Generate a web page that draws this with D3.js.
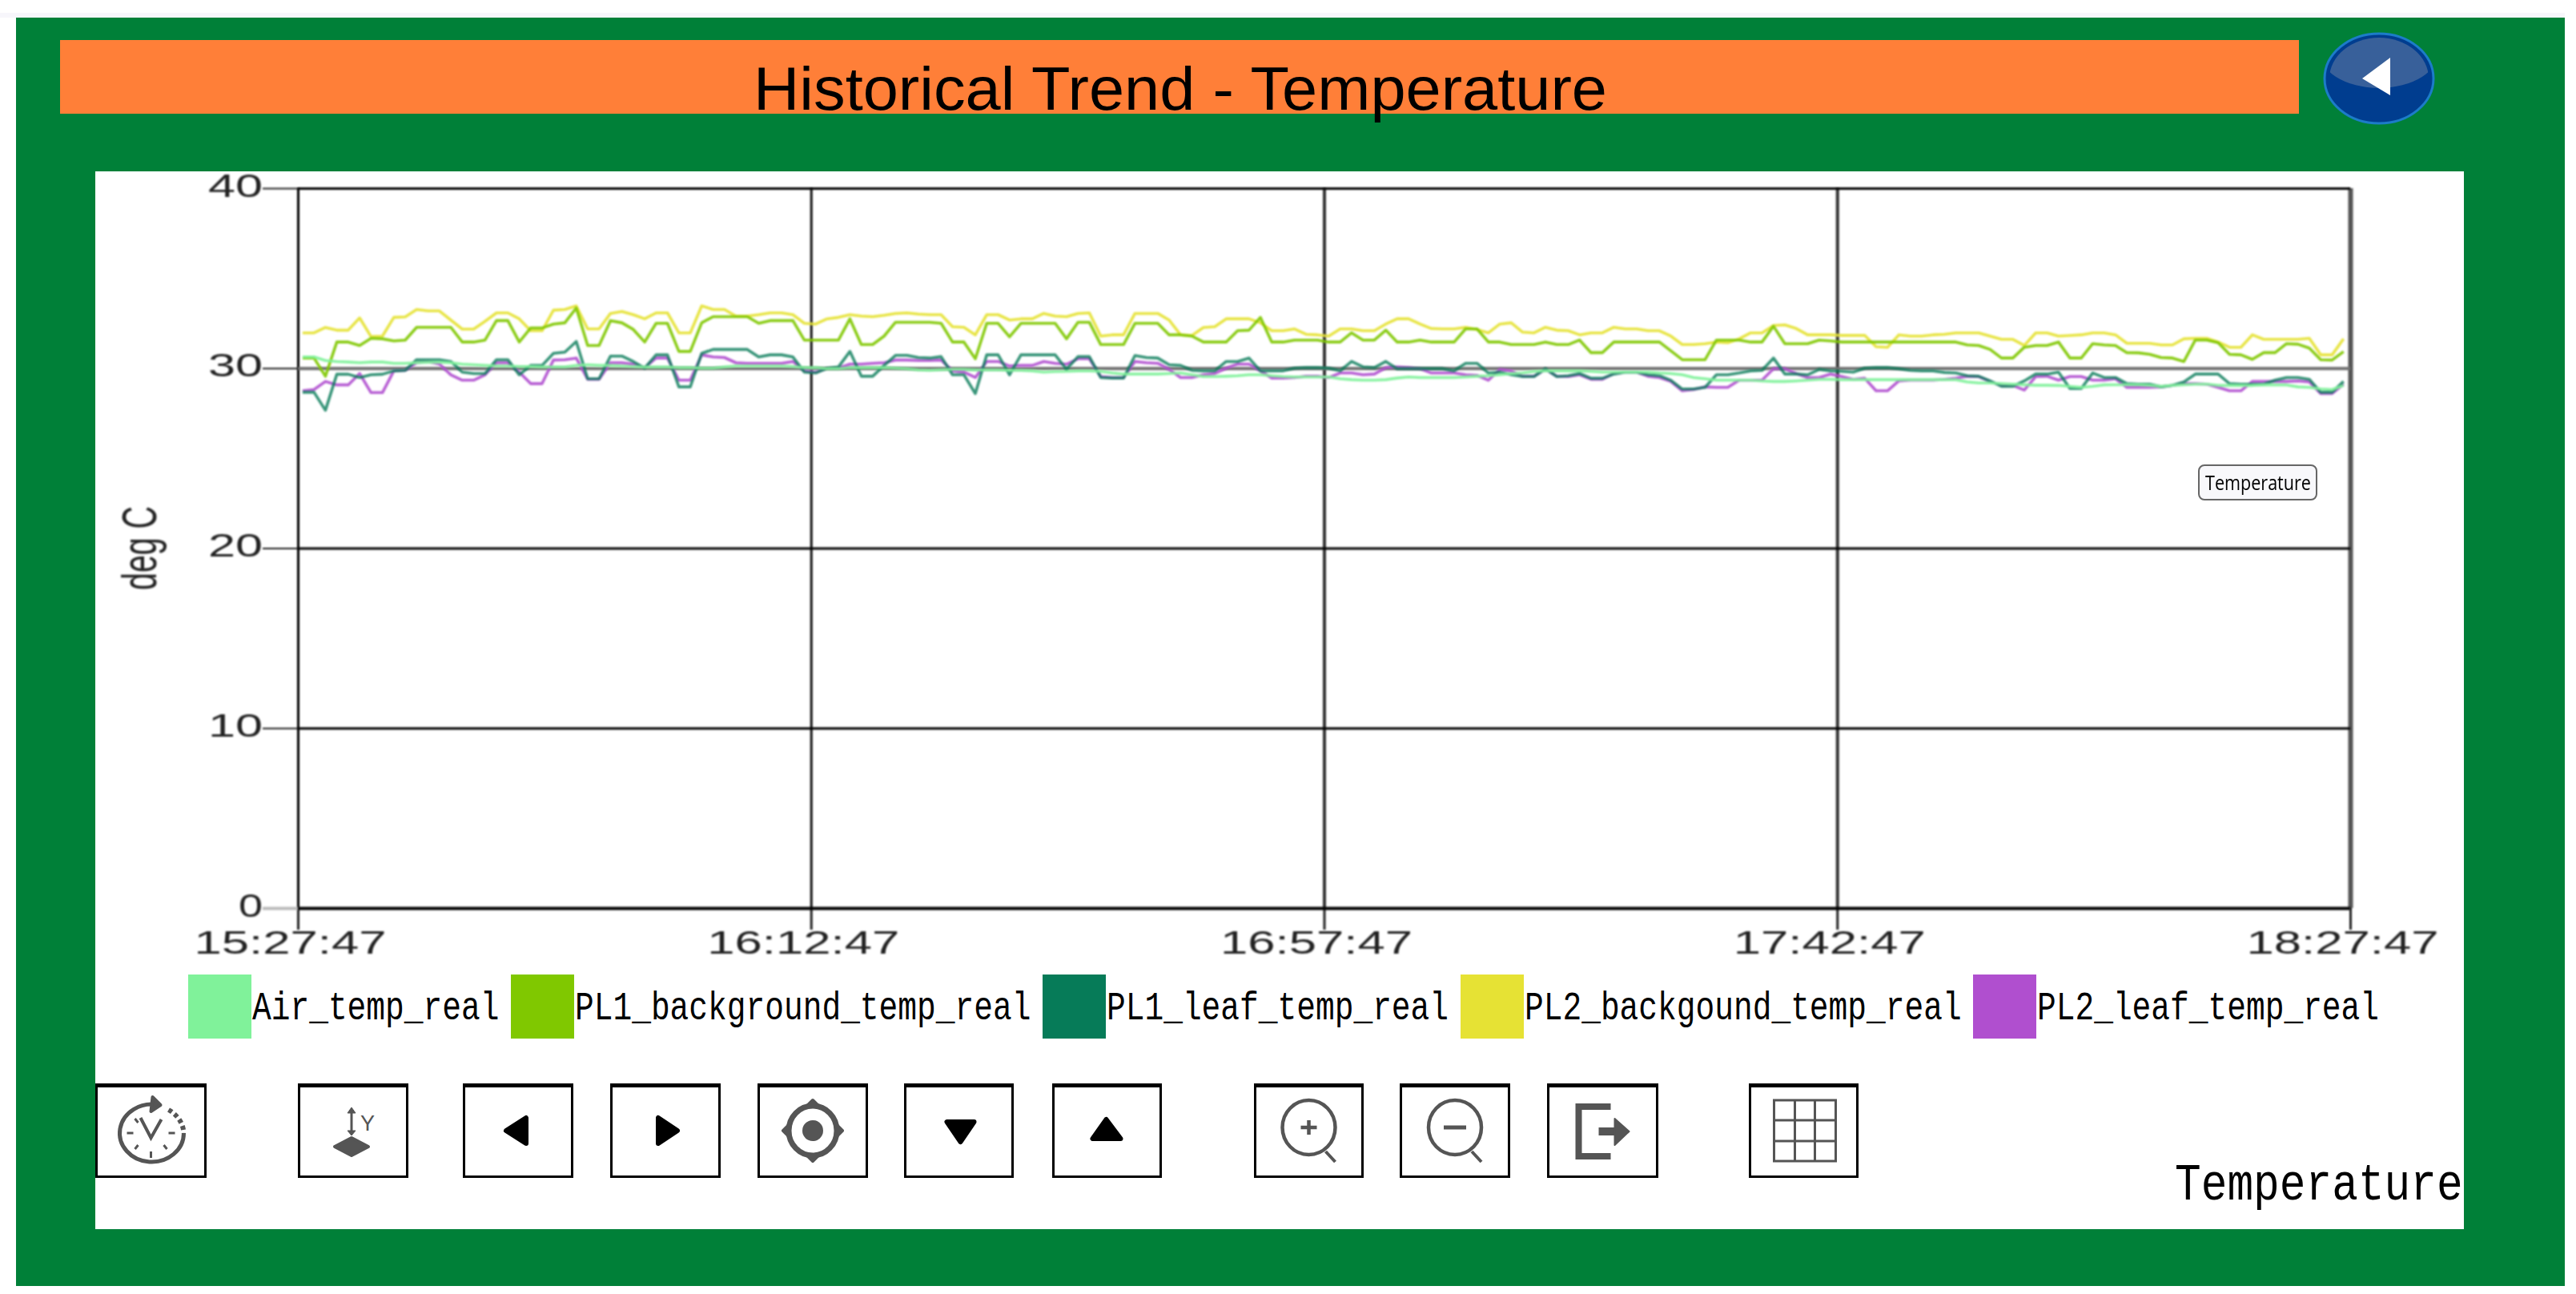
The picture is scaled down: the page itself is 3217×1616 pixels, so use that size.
<!DOCTYPE html>
<html>
<head>
<meta charset="utf-8">
<script src="https://d3js.org/d3.v7.min.js"></script>
<style>
html, body { margin: 0; padding: 0; background: #fff; }
svg { display: block; }
.soft { filter: blur(0.8px); }
</style>
</head>
<body>
<svg id="canvas"></svg>
<script>
// one reading a minute
const airTemp = [
  30.62,30.62,30.42,30.37,30.34,30.30,30.34,30.34,30.27,30.27,30.30,30.33,30.33,30.30,30.22,30.19,30.15,30.12,30.12,30.09,30.09,30.07,30.07,30.07,30.15,30.19,30.15,30.15,30.12,30.09,30.06,30.06,30.06,30.03,30.03,30.00,30.00,30.07,30.12,30.12,30.12,30.12,30.12,30.09,30.03,30.03,29.97,
  29.97,30.03,30.03,30.03,30.03,30.00,29.97,29.90,29.88,29.91,29.93,29.93,29.90,29.90,29.90,29.88,29.88,29.85,29.78,29.81,29.82,29.85,29.85,29.82,29.73,29.67,29.67,29.67,29.67,29.70,29.73,29.63,29.53,29.53,29.55,29.58,29.63,29.63,29.58,29.53,29.51,29.51,29.51,29.51,
  29.41,29.36,29.33,29.33,29.36,29.45,29.51,29.48,29.48,29.48,29.48,29.51,29.55,29.58,29.63,29.70,29.73,29.82,29.85,29.85,29.85,29.85,29.82,29.78,29.78,29.78,29.78,29.78,29.73,29.70,29.63,29.48,29.41,29.33,29.33,29.33,29.33,29.29,29.26,29.26,29.29,29.33,29.38,
  29.38,29.36,29.36,29.36,29.36,29.36,29.36,29.36,29.36,29.36,29.36,29.36,29.23,29.18,29.18,29.14,29.11,29.08,29.05,29.05,29.04,28.99,28.93,28.99,29.07,29.08,29.08,29.08,29.04,28.99,29.04,29.08,29.11,29.11,29.04,29.04,29.04,29.04,29.07,29.07,29.07,28.96,28.93,28.84,28.81,29.04
]
const pl1Background = [
  30.56,30.56,29.55,31.45,31.45,31.26,31.66,31.63,31.51,31.56,32.27,32.27,32.27,32.27,31.45,31.45,31.56,32.64,32.64,31.45,32.23,32.23,32.45,32.52,33.34,31.26,31.26,32.64,32.52,32.15,31.45,32.49,32.49,30.93,30.93,32.52,32.86,32.86,32.86,32.86,32.49,32.64,32.64,32.64,31.56,31.56,31.56,
  31.56,32.74,31.31,31.31,31.78,32.55,32.55,32.55,32.55,32.49,31.45,31.45,30.52,32.49,32.49,31.74,32.49,32.49,32.49,32.49,31.63,32.55,32.55,31.31,31.31,31.31,32.49,32.49,32.49,31.85,31.85,31.78,31.45,31.45,31.45,32.08,32.11,32.82,31.45,31.45,31.56,31.56,31.56,31.45,
  31.45,31.96,31.56,31.56,32.11,31.45,31.45,31.56,31.45,31.45,31.45,32.18,32.18,31.45,31.45,31.31,31.31,31.31,31.45,31.31,31.31,31.56,30.86,30.86,31.45,31.45,31.45,31.45,31.45,30.96,30.47,30.47,30.47,31.56,31.56,31.56,31.45,31.45,32.33,31.36,31.36,31.36,31.56,
  31.51,31.45,31.45,31.45,31.45,31.45,31.45,31.45,31.45,31.45,31.45,31.45,31.29,31.26,31.04,30.56,30.56,31.16,31.26,31.26,31.45,30.56,30.56,31.36,31.29,31.26,30.86,30.85,30.77,30.59,30.56,30.37,31.56,31.56,31.41,30.77,30.74,30.49,30.86,30.86,31.36,31.33,31.11,30.47,30.45,30.92
]
const pl1Leaf = [
  28.66,28.66,27.66,29.66,29.66,29.48,29.63,29.66,29.85,29.88,30.47,30.47,30.47,30.37,29.78,29.70,29.70,30.47,30.47,29.63,30.15,30.15,30.82,30.89,31.48,29.41,29.41,30.67,30.67,30.37,30.00,30.74,30.74,28.96,28.96,30.82,31.04,31.04,31.04,31.04,30.62,30.74,30.74,30.62,29.78,29.73,30.00,
  30.07,30.93,29.55,29.55,30.15,30.71,30.71,30.59,30.56,30.64,29.63,29.63,28.59,30.74,30.74,29.63,30.74,30.74,30.74,30.74,29.93,30.64,30.64,29.48,29.45,29.45,30.70,30.59,30.56,30.19,30.15,29.88,29.85,29.85,30.37,30.37,30.56,29.85,29.85,29.85,30.00,30.03,30.03,30.00,
  29.85,30.37,30.07,30.03,30.37,29.97,29.97,29.97,29.97,29.97,29.85,30.27,30.27,29.73,29.78,29.63,29.53,29.53,29.97,29.53,29.58,29.70,29.44,29.44,29.67,29.78,29.78,29.63,29.58,29.33,28.84,28.84,28.93,29.63,29.63,29.73,29.85,29.88,30.56,29.67,29.67,29.63,29.93,
  29.85,29.82,29.78,30.00,30.03,30.03,29.97,29.88,29.85,29.85,29.76,29.73,29.58,29.55,29.29,28.99,28.99,29.29,29.67,29.67,29.78,28.87,28.87,29.73,29.48,29.48,29.14,29.11,29.11,28.96,29.04,29.23,29.67,29.67,29.67,29.14,29.11,29.11,29.11,29.33,29.48,29.48,29.38,28.66,28.66,29.26
]
const pl2Background = [
  31.96,31.96,32.26,32.11,32.11,32.79,31.75,31.78,32.82,32.85,33.26,33.18,33.18,32.67,32.17,32.17,32.60,33.07,33.07,32.74,32.08,32.08,33.22,33.26,33.46,32.18,32.18,33.04,33.15,32.97,32.74,33.07,33.07,31.96,31.96,33.46,33.26,33.26,32.89,32.89,32.97,33.07,33.07,32.97,32.49,32.45,32.74,
  32.82,32.97,32.89,32.86,32.94,33.04,33.07,33.00,32.97,32.97,32.30,32.27,31.85,32.97,32.97,32.67,32.74,32.74,33.04,32.89,32.86,33.04,33.07,31.78,31.85,31.85,33.04,33.04,33.04,32.67,31.85,31.81,32.26,32.30,32.74,32.74,32.74,32.52,32.08,32.08,32.18,31.88,31.85,31.78,
  32.18,32.18,32.08,32.08,32.45,32.74,32.74,32.45,32.20,32.18,32.18,32.27,32.15,31.96,32.45,32.52,32.00,31.96,32.27,32.11,32.08,31.85,31.96,31.96,32.27,32.18,32.18,32.08,32.08,31.78,31.31,31.31,31.36,31.45,31.41,31.63,31.96,31.96,32.37,32.40,32.20,31.85,31.85,
  31.85,31.82,31.82,31.82,31.19,31.16,31.85,31.78,31.78,31.85,31.88,31.96,31.96,31.96,31.78,31.60,31.60,31.26,31.96,31.96,31.78,31.81,31.85,31.96,31.96,31.85,31.38,31.38,31.38,31.29,31.29,31.63,31.66,31.66,31.45,31.16,31.16,31.85,31.60,31.60,31.60,31.60,31.66,30.74,30.74,31.63
]
const pl2Leaf = [
  28.74,28.81,29.26,29.07,29.07,29.70,28.64,28.64,29.85,29.88,30.30,30.37,30.22,29.63,29.33,29.33,29.63,30.30,30.30,29.78,29.14,29.14,30.45,30.47,30.56,29.38,29.38,30.30,30.30,30.22,30.03,30.56,30.56,29.33,29.33,30.74,30.62,30.59,30.30,30.27,30.27,30.27,30.27,30.37,29.85,29.78,30.00,
  30.00,30.22,30.22,30.27,30.30,30.45,30.45,30.42,30.42,30.45,29.85,29.78,29.48,30.37,30.37,30.12,30.15,30.15,30.37,30.27,30.22,30.52,30.52,29.53,29.48,29.48,30.37,30.30,30.27,29.93,29.48,29.48,29.63,29.70,30.00,30.22,30.22,29.85,29.45,29.45,29.48,29.55,29.55,29.48,
  29.73,29.73,29.63,29.67,30.03,30.07,30.03,29.97,29.73,29.73,29.73,29.63,29.60,29.33,29.93,29.85,29.55,29.55,29.93,29.55,29.53,29.63,29.38,29.38,29.70,29.78,29.78,29.55,29.48,29.26,28.74,28.81,28.96,28.93,28.93,29.33,29.33,29.33,29.97,29.97,29.70,29.48,29.48,
  29.67,29.53,29.38,29.44,28.74,28.74,29.29,29.33,29.33,29.33,29.38,29.44,29.55,29.53,29.26,29.04,29.04,28.78,29.53,29.55,29.33,29.53,29.53,29.33,29.33,29.41,28.93,28.93,28.93,28.96,29.04,29.14,29.14,29.11,28.93,28.74,28.74,29.26,29.26,29.26,29.26,29.29,29.23,28.59,28.59,29.11
]

const seriesNames = ['Air_temp_real', 'PL1_background_temp_real', 'PL1_leaf_temp_real', 'PL2_backgound_temp_real', 'PL2_leaf_temp_real']
const seriesValues = [airTemp, pl1Background, pl1Leaf, pl2Background, pl2Leaf]
const timeTicks = ['15:27:47', '16:12:47', '16:57:47', '17:42:47', '18:27:47']
const tempTicks = [0, 10, 20, 30, 40]

const width = 3217
const height = 1616
const parseTime = d3.timeParse('%H:%M:%S')
const firstSample = parseTime('15:28:12')
const sampleTime = (i) => d3.timeMinute.offset(firstSample, i)

const svg = d3.select('#canvas').attr('width', width).attr('height', height)

const xScale = d3.scaleTime()
  .domain([parseTime(timeTicks[0]), parseTime(timeTicks[4])])
  .range([372, 2935])
const yScale = d3.scaleLinear().domain([0, 40]).range([1134, 235])

// frame, title bar, back button
svg.append('rect').attr('x', 0).attr('y', 16).attr('width', 3203).attr('height', 6).attr('fill', '#f7f6fb')
svg.append('rect').attr('x', 20).attr('y', 22).attr('width', 3183).attr('height', 1584).attr('fill', '#008038')
svg.append('rect').attr('x', 75).attr('y', 50).attr('width', 2796).attr('height', 92).attr('fill', '#ff7f38')
svg.append('rect').attr('x', 119).attr('y', 214).attr('width', 2958).attr('height', 1321).attr('fill', '#fff')
svg.append('text').attr('x', 941).attr('y', 137)
  .attr('textLength', 1066).attr('lengthAdjust', 'spacingAndGlyphs')
  .style('font', '76px "Liberation Sans"').attr('fill', '#000')
  .text('Historical Trend - Temperature')

const back = svg.append('g').attr('transform', 'translate(2971,98)')
back.append('clipPath').attr('id', 'backClip').append('ellipse').attr('rx', 62).attr('ry', 51)
back.append('ellipse').attr('rx', 68).attr('ry', 56).attr('fill', '#003d8f').attr('stroke', '#1c7cc8').attr('stroke-width', 3)
back.append('ellipse').attr('cy', -36).attr('rx', 76).attr('ry', 48).attr('fill', '#38609a').attr('clip-path', 'url(#backClip)')
back.append('path').attr('d', 'M-21,0L14,-26V21Z').attr('fill', '#fff')

// axes and grid
const gridColor = ['#000', '#111', '#333', '#333', '#555']
const gridWidth = [3, 3, 4, 4, 6]
const yColor = ['#000', '#000', '#000', '#707070', '#000']
const yWidth = [4, 3, 3, 4, 3]

const xAxis = svg.append('g').attr('class', 'soft').attr('transform', 'translate(0,1134)')
  .call(d3.axisBottom(xScale)
    .tickValues(timeTicks.map(parseTime))
    .tickFormat(d3.timeFormat('%H:%M:%S'))
    .tickSize(27))
xAxis.select('.domain').remove()
xAxis.selectAll('.tick line').attr('stroke', '#222').attr('stroke-width', 3)
xAxis.selectAll('text')
  .attr('dx', -10).attr('y', 57).attr('dy', 0)
  .attr('textLength', 240).attr('lengthAdjust', 'spacingAndGlyphs')
  .attr('fill', '#222').style('font', '40px "Liberation Sans"')
xAxis.selectAll('.tick').append('line')
  .attr('y2', -899)
  .attr('stroke', (d, i) => gridColor[i])
  .attr('stroke-width', (d, i) => gridWidth[i])

const yAxis = svg.append('g').attr('class', 'soft').attr('transform', 'translate(372,0)')
  .call(d3.axisLeft(yScale).tickValues(tempTicks).tickSize(44))
yAxis.select('.domain').remove()
yAxis.selectAll('.tick line').attr('stroke-width', (d, i) => i === 0 ? 4 : 2)
  .attr('stroke', (d, i) => i === 0 ? '#bbb' : '#222')
yAxis.selectAll('.tick').append('line')
  .attr('x2', 2563)
  .attr('stroke', (d, i) => yColor[i])
  .attr('stroke-width', (d, i) => yWidth[i])
yAxis.selectAll('text')
  .attr('x', -44).attr('dy', 10)
  .attr('textLength', (d) => d === 0 ? 30 : 68).attr('lengthAdjust', 'spacingAndGlyphs')
  .attr('fill', '#222').style('font', '41px "Liberation Sans"')

svg.append('text').attr('class', 'soft').attr('transform', 'translate(195,737) rotate(-90)')
  .attr('textLength', 105).attr('lengthAdjust', 'spacingAndGlyphs')
  .attr('fill', '#222').style('font', '62px "Liberation Sans"')
  .text('deg C')

// trend lines, in the order they overlap
const colors = d3.scaleOrdinal().domain(seriesNames).range(['#80f29a', '#80c800', '#067b58', '#e6e234', '#b04fcf'])
const line = d3.line().x((d, i) => xScale(sampleTime(i))).y((d) => yScale(d))
const drawOrder = [3, 1, 4, 2, 0]
svg.append('g').attr('class', 'soft').selectAll('path')
  .data(drawOrder)
  .enter()
  .append('path')
  .attr('d', (s) => line(seriesValues[s]))
  .attr('fill', 'none')
  .attr('stroke', (s) => colors(seriesNames[s]))
  .attr('stroke-width', 3.6)
  .attr('stroke-linejoin', 'round')
  .attr('stroke-opacity', (s) => s === 2 ? 0.8 : 0.9)

// tag on the trace
svg.append('rect').attr('x', 2746).attr('y', 581).attr('width', 147).attr('height', 43).attr('rx', 7)
  .attr('fill', '#f8f8fb').attr('stroke', '#666').attr('stroke-width', 2)
svg.append('text').attr('x', 2754).attr('y', 612)
  .attr('textLength', 132).attr('lengthAdjust', 'spacingAndGlyphs')
  .attr('fill', '#000').style('font', '25px "Open Sans"').text('Temperature')

// legend, mono font pulled taller to get the narrow look
const legendX = [235, 638, 1302, 1824, 2464]
const legend = svg.append('g').selectAll('g')
  .data(seriesNames)
  .enter()
  .append('g')
  .attr('transform', (d, i) => 'translate(' + legendX[i] + ',1217)')
legend.append('rect').attr('width', 79).attr('height', 80).attr('fill', (d) => colors(d))
legend.append('text').attr('transform', 'translate(80,56) scale(1,1.26)')
  .attr('fill', '#000').style('font', '39.55px "Liberation Mono"')
  .text((d) => d)

svg.append('text').attr('transform', 'translate(2716,1498) scale(1,1.2)')
  .attr('fill', '#000').style('font', '54.5px "Liberation Mono"').text('Temperature')

// toolbar
const grey = '#555'
const toolLeft = [119, 372, 578, 762, 946, 1129, 1314, 1566, 1748, 1932, 2184]
const toolRight = [258, 510, 716, 900, 1084, 1266, 1451, 1703, 1886, 2071, 2321]
const tools = svg.append('g').selectAll('g')
  .data(toolLeft)
  .enter()
  .append('g')
  .attr('transform', (d, i) => 'translate(' + (d + toolRight[i]) / 2 + ',1412)')
tools.append('rect')
  .attr('x', (d, i) => (d - toolRight[i]) / 2 + 1.5).attr('y', -57.5)
  .attr('width', (d, i) => toolRight[i] - d - 3).attr('height', 115)
  .attr('fill', '#fff').attr('stroke', '#000').attr('stroke-width', 3)
tools.append('rect')
  .attr('x', (d, i) => (d - toolRight[i]) / 2).attr('y', -59)
  .attr('width', (d, i) => toolRight[i] - d).attr('height', 5)
  .attr('fill', '#000')

const icon = (i) => d3.select(tools.nodes()[i])
const solid = (g, d, fill) => g.append('path').attr('d', d).attr('fill', fill)
  .attr('stroke', fill).attr('stroke-width', 4).attr('stroke-linejoin', 'round')
const stroked = (g, d, w) => g.append('path').attr('d', d).attr('fill', 'none').attr('stroke', grey).attr('stroke-width', w)

// history clock
let g = icon(0)
stroked(g, 'M10,-32A40,36 0 1 0 41,3', 5)
stroked(g, 'M22,-26A40,36 0 0 1 41,3', 6).attr('stroke-dasharray', '5 4')
solid(g, 'M2,-42L12,-32L0,-24Z', grey)
stroked(g, 'M-13,-16L0,9L13,-14', 4)
stroked(g, 'M-30,3H-22M22,3H30M0,26V34M-20,-15L-16,-10M-20,23L-16,18M20,23L16,18', 3)
// y scale
g = icon(1)
stroked(g, 'M-2,-26V2', 3)
solid(g, 'M-7,-22L-2,-29L3,-22ZM-7,0L-2,6L3,0Z', grey).attr('stroke-width', 1)
g.append('text').attr('x', 9).attr('y', 0).attr('fill', grey).style('font', '27px "Liberation Sans"').text('Y')
solid(g, 'M-23,20L-2,9L19,20L-2,31Z', grey)
// pan
solid(icon(2), 'M-15,0L10,-16V16Z', '#000').attr('stroke-width', 6)
solid(icon(3), 'M15,0L-9,-16V16Z', '#000').attr('stroke-width', 6)
g = icon(4)
g.append('ellipse').attr('rx', 30).attr('ry', 31).attr('fill', 'none').attr('stroke', grey).attr('stroke-width', 7)
g.append('ellipse').attr('rx', 13).attr('ry', 13).attr('fill', grey)
solid(g, 'M-6,-32L0,-38L6,-32ZM-6,32L0,38L6,32ZM-31,-6L-37,0L-31,6ZM31,-6L37,0L31,6Z', grey)
solid(icon(5), 'M-15,-11H19L2,14Z', '#000').attr('stroke-width', 6)
solid(icon(6), 'M-18,10H17L-1,-14Z', '#000').attr('stroke-width', 6)
// zoom
g = icon(7)
g.append('ellipse').attr('cy', -4).attr('rx', 33).attr('ry', 34).attr('fill', 'none').attr('stroke', grey).attr('stroke-width', 4.5)
stroked(g, 'M21,26L33,39', 4)
stroked(g, 'M-10,-4H10M0,-13V5', 4.5)
g = icon(8)
g.append('ellipse').attr('cy', -4).attr('rx', 33).attr('ry', 34).attr('fill', 'none').attr('stroke', grey).attr('stroke-width', 4.5)
stroked(g, 'M21,26L33,39', 4)
stroked(g, 'M-14,-4H14', 5)
// export
g = icon(9)
stroked(g, 'M10,-30H-30V32H10', 8)
stroked(g, 'M-5,1H16', 10)
solid(g, 'M15,-15L33,1L15,18Z', grey).attr('stroke-width', 2)
// grid
g = icon(10)
stroked(g, 'M-37,-38H40V38H-37ZM-11,-38V38M14,-38V38M-37,-13H40M-37,13H40', 3)
</script>
</body>
</html>
